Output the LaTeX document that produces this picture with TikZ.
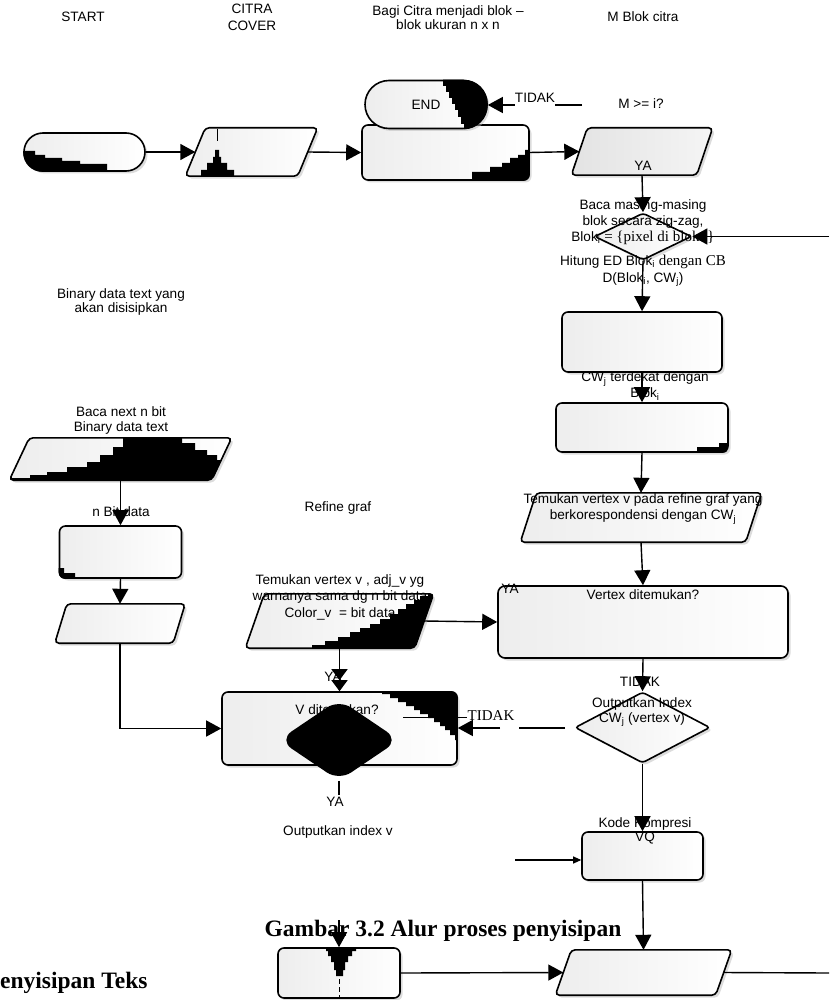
\documentclass[tikz,border=0pt]{standalone}
\usepackage{fontspec}
\setmainfont{Liberation Serif}
\setsansfont{Liberation Sans}
\usetikzlibrary{shapes.geometric,shapes.misc,arrows.meta,shadows}

% slanted input/output box: name, centre x, centre y, mid width, height, half slant, extra style
\newcommand{\parnode}[7]{%
  \node[inner sep=0pt, minimum width=#4pt, minimum height=#5pt] (#1) at (#2,#3) {};
  \coordinate (#1-bl) at ([xshift=-#6pt]#1.south west);
  \coordinate (#1-tl) at ([xshift=#6pt]#1.north west);
  \coordinate (#1-tr) at ([xshift=#6pt]#1.north east);
  \coordinate (#1-br) at ([xshift=-#6pt]#1.south east);
  \path[shp, rounded corners=4pt, #7] (#1-bl) -- (#1-tl) -- (#1-tr) -- (#1-br) -- cycle;
}
% serif run inside a sans label
\newcommand{\rmrun}[1]{{\rmfamily\fontsize{15}{16}\selectfont #1}}

\begin{document}
\begin{tikzpicture}[x=1pt,y=-1pt,
  txt/.style={font=\sffamily\fontsize{13.6}{16}\selectfont, align=center, inner sep=0pt},
  serif/.style={font=\rmfamily\fontsize{15}{17}\selectfont, inner sep=0pt},
  captxt/.style={font=\rmfamily\bfseries\fontsize{23.5}{26}\selectfont, inner sep=0pt},
  shp/.style={draw, line width=1.6pt, inner sep=0pt, left color=gray!14, right color=white,
     drop shadow={shadow xshift=2.5pt, shadow yshift=-2.5pt, fill=gray!55}},
  term/.style={shp, rounded rectangle},
  proc/.style={shp, rectangle, rounded corners=6pt},
  dec/.style={shp, diamond, rounded corners=3pt},
  ln/.style={line width=1.4pt},
  arr/.style={line width=1.4pt, -{Triangle[width=16pt,length=15pt]}},
  darr/.style={line width=1.4pt, -{Triangle[width=16pt,length=11pt]Triangle[width=16pt,length=11pt]}},
  sarr/.style={line width=1.1pt, -{Triangle[width=7pt,length=8pt]}},
  stairs/.style={fill=black},
]
\useasboundingbox (0,0) rectangle (829,1000);

% ---------- shapes ----------
\node[term, minimum width=121pt, minimum height=38pt] (start) at (84.5,152) {};
\parnode{citra}{251.5}{152}{112}{48}{10}{}
\node[proc, minimum width=167pt, minimum height=55pt] (bagi) at (445.5,152.5) {};
\node[term, txt, minimum width=122pt, minimum height=48pt] (endn) at (426,104.5) {END};
\parnode{mblok}{642}{151.5}{125}{47}{8}{left color=gray!22, right color=gray!8}
\node[dec, minimum width=97pt, minimum height=47pt] (sdia) at (643,236.5) {};
\node[proc, minimum width=160pt, minimum height=60pt] (cb) at (642,342) {};
\node[proc, minimum width=172pt, minimum height=49pt] (bx2) at (642,427.5) {};
\parnode{tpada}{641}{517.5}{225}{49}{8}{}
\node[proc, minimum width=290pt, minimum height=72pt, rounded corners=7pt] (big) at (643,622) {};
\node[dec, minimum width=135pt, minimum height=71pt] (odia) at (642.5,727.5) {};
\node[proc, minimum width=121pt, minimum height=48pt] (kode) at (642.5,856) {};
\parnode{bpar}{643.5}{972.5}{160}{45}{8}{}
\node[proc, minimum width=122pt, minimum height=50pt] (blbox) at (339,973) {};

\parnode{bnp}{120.5}{459}{202}{42}{10}{}
\node[proc, minimum width=122pt, minimum height=52pt] (nbit) at (120.5,552) {};
\parnode{lpar}{120}{623.5}{118}{39}{6}{}

\parnode{adj}{339.5}{621}{169}{54}{9.5}{}
\node[proc, minimum width=235pt, minimum height=73pt] (vbox) at (339.5,728.5) {};

% ---------- black stepped fills ----------
\begin{scope}
  \clip[rounded corners=19pt] (start.west |- start.north) rectangle (start.east |- start.south);
  \fill[stairs] (20,151) -| (35,155) -| (45,158) -| (62,161) -| (80,164) -| (107,176) -- (20,176) -- cycle;
\end{scope}
\begin{scope}
  \clip[rounded corners=4pt] (citra-bl) -- (citra-tl) -- (citra-tr) -- (citra-br) -- cycle;
  \fill[stairs] (215,150) -- (219,150) -- (219,157) -- (221,157) -- (221,163) -- (227,163) -- (227,170) -- (234,170) -- (234,180)
     -- (201,180) -- (201,170) -- (207,170) -- (207,163) -- (213,163) -- (213,157) -- (215,157) -- cycle;
  \draw[line width=1pt] (217,129) -- (217,141);
\end{scope}
\begin{scope}
  \clip[rounded corners=6pt] (bagi.south west) rectangle (bagi.north east);
  \fill[stairs] (472,186) -- (472,172) -| (490,167) -| (502,163) -| (510,158) -| (518,155) -| (525,150) -| (535,146) -- (535,186) -- cycle;
\end{scope}
\begin{scope}
  \clip[rounded corners=24pt] (endn.west |- endn.north) rectangle (endn.east |- endn.south);
  \fill[stairs] (495,74) -- (443,74) |- (446,86) |- (449,92) |- (452,98) |- (455,104) |- (458,110) |- (461,117) |- (464,124) |- (467,134) -- (495,134) -- cycle;
\end{scope}
\begin{scope}
  \clip[rounded corners=4pt] (bnp-bl) -- (bnp-tl) -- (bnp-tr) -- (bnp-br) -- cycle;
  \fill[stairs] (0,492) -- (0,478) -| (30,475) -| (47,472) -| (67,467) -| (87,462) -| (100,455) -| (113,447) -| (123,434)
     -| (168,438) -| (182,443) -| (195,450) -| (207,455) -| (217,460) -| (245,463) -- (245,492) -- cycle;
\end{scope}
\begin{scope}
  \clip[rounded corners=6pt] (nbit.south west) rectangle (nbit.north east);
  \fill[stairs] (56,568) -- (64,568) -- (64,573) -- (75,573) -- (75,582) -- (56,582) -- cycle;
\end{scope}
\begin{scope}
  \clip[rounded corners=6pt] (bx2.south west) rectangle (bx2.north east);
  \fill[stairs] (697,456) -- (697,447) -- (719,447) -- (719,443) -- (727,443) -- (727,456) -- cycle;
\end{scope}
\begin{scope}
  \clip[rounded corners=4pt] (adj-bl) -- (adj-tl) -- (adj-tr) -- (adj-br) -- cycle;
  \fill[stairs] (312,656) -- (312,645) -| (325,641) -| (338,637) -| (350,632) -| (360,628) -| (370,624) -| (380,619) -| (390,614)
     -| (398,609) -| (406,604) -| (414,600) -| (420,596) -| (428,592) -| (445,590) -- (445,656) -- cycle;
\end{scope}
\begin{scope}
  \clip[rounded corners=6pt] (vbox.south west) rectangle (vbox.north east);
  \fill[stairs] (382,686) -- (382,694) -| (390,698) -| (398,702) -| (406,706) -| (414,710) -| (420,714) -| (428,718) -| (434,722)
     -| (440,726) -| (445,730) -| (450,735) -| (455,740) -| (462,745) -- (462,686) -- cycle;
\end{scope}
\begin{scope}
  \clip[rounded corners=6pt] (blbox.south west) rectangle (blbox.north east);
  \fill[stairs] (326,946) -- (356,946) -- (356,951) -- (352,951) -- (352,956) -- (348,956) -- (348,962) -- (345,962) -- (345,970)
     -- (343,970) -- (343,976) -- (336,976) -- (336,970) -- (334,970) -- (334,962) -- (331,962) -- (331,956) -- (328,956)
     -- (328,951) -- (326,951) -- cycle;
  \draw[line width=1pt, dash pattern=on 5pt off 3pt] (339.5,979) -- (339.5,998);
\end{scope}

% ---------- texts ----------
\node[txt] (tstart) at (83,17) {START};
\node[txt, font=\sffamily\fontsize{13.6}{16.5}\selectfont] (tcitra) at (252,17.5) {CITRA\\COVER};
\node[txt, font=\sffamily\fontsize{13.6}{14}\selectfont] (tbagi) at (448,18) {Bagi Citra menjadi blok –\\blok ukuran n x n};
\node[txt] (tmblok) at (643,17) {M Blok citra};
\node[txt] (tid1) at (535,98) {TIDAK};
\node[txt] (tcond) at (641,104) {M >= i?};
\node[txt] (tya1) at (643,166) {YA};
\node[txt] (tbaca) at (643,222) {Baca masing-masing\\blok secara zig-zag,\\Blok\textsubscript{i} \rmrun{= \{pixel di blok i\}}};
\node[txt, font=\sffamily\fontsize{13.6}{17}\selectfont] (thit) at (643,271) {Hitung ED Blok\textsubscript{i} \rmrun{dengan CB}\\D(Blok\textsubscript{i}, CW\textsubscript{j})};
\node[txt] (tcw) at (645,386) {CW\textsubscript{j} terdekat dengan\\Blok\textsubscript{i}};
\node[txt] (ttem) at (643,509) {Temukan vertex v pada refine graf yang\\berkorespondensi dengan CW\textsubscript{j}};
\node[txt] (tya2) at (510,589) {YA};
\node[txt] (tvtx) at (643,595) {Vertex ditemukan?};
\node[txt] (tid3) at (640,682) {TIDAK};
\node[txt, font=\sffamily\fontsize{13.6}{14.5}\selectfont] (tout) at (642,712) {Outputkan Index\\CW\textsubscript{j} (vertex v)};
\node[txt, font=\sffamily\fontsize{13.6}{13.5}\selectfont] (tkode) at (645,831) {Kode Kompresi\\VQ};
\node[txt, font=\sffamily\fontsize{13.6}{14.5}\selectfont] (tbin) at (121,302) {Binary data text yang\\akan disisipkan};
\node[txt, font=\sffamily\fontsize{13.6}{15}\selectfont] (tnext) at (121,420) {Baca next n bit\\Binary data text};
\node[txt] (tnbit) at (121,512) {n Bit data};
\node[txt] (tref) at (338,508) {Refine graf};
\node[txt, font=\sffamily\fontsize{13.6}{16.5}\selectfont] (tadj) at (340,597) {Temukan vertex v , adj\_v yg\\warnanya sama dg n bit data\\Color\_v \ = bit data};
\node[txt] (tya3) at (333,677) {YA};
\node[txt] (tvd) at (337,710) {V ditemukan?};
\node[serif] (tid2) at (491,716) {TIDAK};
\node[txt] (tya4) at (335,802) {YA};
\node[txt] (toutv) at (338,832) {Outputkan index v};
\node[captxt, anchor=base] (tcap) at (443,936) {Gambar 3.2 Alur proses penyisipan};
\node[captxt, anchor=base west] (tsec) at (0,988) {enyisipan Teks};

% black decision over its label
\node[diamond, draw, fill=black, line width=1.6pt, rounded corners=14pt, inner sep=0pt,
      minimum width=118pt, minimum height=80pt] (bdia) at (339,740) {};

% ---------- connectors ----------
\coordinate (tidR) at (582,105);
\coordinate (rin) at (829,236.5);
\coordinate (ga) at (565,728);
\coordinate (gb) at (519,728);
\coordinate (gc) at (500,728);
\coordinate (kin) at (515,860);
\coordinate (bout) at (829,973);
\coordinate (bin) at (339,920);
\coordinate (ya2) at (339,795);
\coordinate (th) at (403,717);

\draw[arr] (start.east) -- (citra.west);
\draw[arr] (citra.east) -- (bagi.west);
\draw[arr] (bagi.east) -- (mblok.west);
\draw[ln] (tidR) -- (tid1.east |- tidR);
\draw[arr] (tid1.west |- tidR) -- (endn.east |- tidR);
\draw[arr] (mblok.south) -- (sdia.north);
\draw[arr] (rin) -- (sdia.east);
\draw[arr] (sdia.south) -- (cb.north);
\draw[arr] (cb.south) -- (bx2.north);
\draw[arr] (bx2.south) -- (tpada.north);
\draw[arr] (tpada.south) -- (big.north);
\draw[arr] (big.south) -- (odia.north);
\draw[ln] (ga) -- (gb);
\draw[arr] (gc) -- (vbox.east |- gc);
\draw[arr] (odia.south) -- (kode.north);
\draw[sarr] (kin) -- (kode.west |- kin);
\draw[arr] (kode.south) -- (bpar.north);
\draw[ln] (bpar.east) -- (bout);
\draw[arr] (blbox.east) -- (bpar.west);
\draw[arr] (bin) -- (blbox.north);
\draw[arr] (bnp.south) -- (nbit.north);
\draw[arr] (nbit.south) -- (lpar.north);
\draw[arr] (lpar.south) |- (vbox.west);
\draw[arr] (adj.east) -- (big.west);
\draw[darr] (adj.south) -- (vbox.north);
\draw[ln] (bdia.south) -- (ya2);
\draw[line width=0.8pt] (th) -- (tid2.west |- th);
\end{tikzpicture}
\end{document}
